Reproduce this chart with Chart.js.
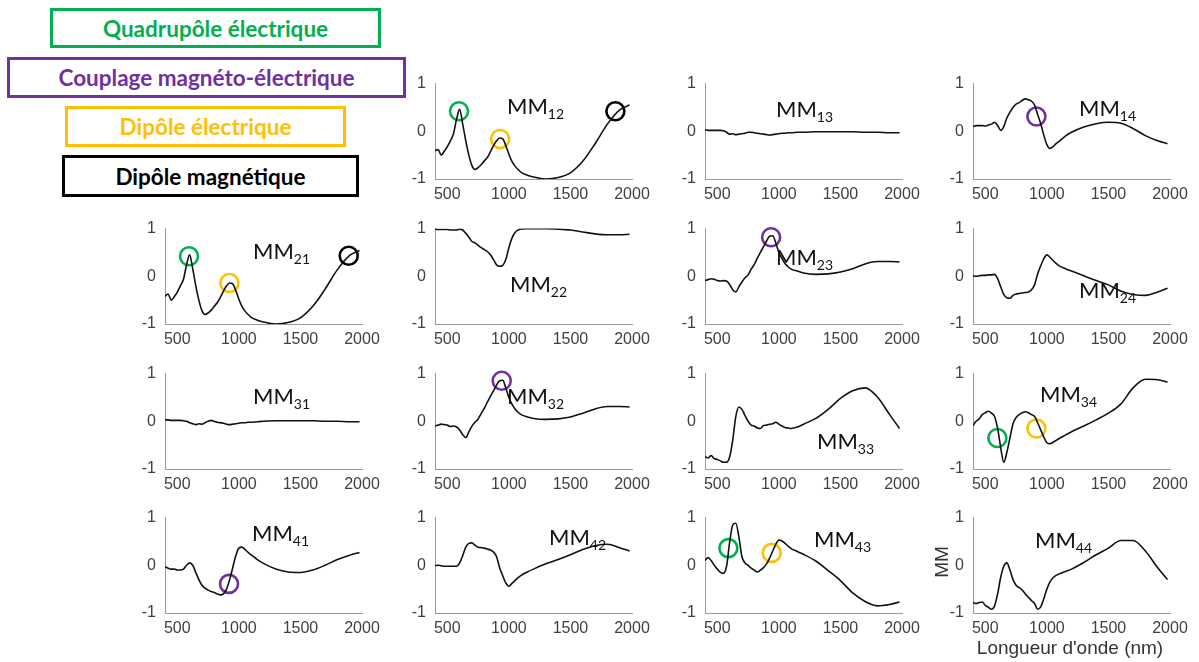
<!DOCTYPE html>
<html lang="fr">
<head>
<meta charset="utf-8">
<title>Matrice de Mueller</title>
<script src="https://cdn.jsdelivr.net/npm/chart.js@4.4.1/dist/chart.umd.min.js"></script>
<style>
  html, body { margin: 0; padding: 0; background: #fff; }
  body { position: relative; width: 1199px; height: 662px; overflow: hidden; font-family: "Liberation Sans", Arial, sans-serif; }
  canvas.panel { position: absolute; }
  .key { position: absolute; box-sizing: border-box; border: 3px solid; font-family: Lato, "Open Sans", sans-serif; font-weight: 700; font-size: 22.5px; display: flex; align-items: center; justify-content: center; }
  .mm { position: absolute; font-family: Lato, sans-serif; font-size: 22px; line-height: 1; transform: translateY(-50%); white-space: nowrap; color: #111; }
  .mm sub { font-size: 14px; vertical-align: -5px; line-height: 0; }
  .axis-title { position: absolute; color: #333; font-size: 19px; white-space: nowrap; line-height: 1; }
</style>
</head>
<body>
<div class="key" style="left:50px;top:8px;width:331px;height:40px;border-color:#00b050;color:#00b050">Quadrupôle électrique</div>
<div class="key" style="left:7px;top:57px;width:399px;height:41px;border-color:#7030a0;color:#7030a0">Couplage magnéto-électrique</div>
<div class="key" style="left:65px;top:106px;width:281px;height:41px;border-color:#ffc000;color:#ffc000">Dipôle électrique</div>
<div class="key" style="left:62px;top:155px;width:297px;height:42px;border-color:#000;color:#000">Dipôle magnétique</div>

<script>
// wavelength (nm) shared by every Mueller element
const wavelengths = [400, 425, 450, 475, 500, 525, 550, 575, 600, 625, 650, 675, 700, 725, 750, 775, 800, 825, 850, 875,
  900, 925, 950, 975, 1000, 1025, 1050, 1075, 1100, 1150, 1200, 1300, 1400, 1500, 1600, 1700, 1800, 1900, 1980];
const xTicks = [500, 1000, 1500, 2000];
const yTicks = [-1, 0, 1];

const mm12 = [-0.41, -0.38, -0.5, -0.42, -0.32, -0.2, -0.05, 0.25, 0.46, 0.15, -0.2, -0.5, -0.72, -0.8, -0.76, -0.7, -0.62, -0.55, -0.43, -0.3,
  -0.2, -0.14, -0.16, -0.3, -0.48, -0.63, -0.73, -0.8, -0.86, -0.92, -0.96, -1.0, -0.97, -0.87, -0.63, -0.26, 0.15, 0.45, 0.55];
const mm13 = [0.03, 0.02, 0.02, 0.02, 0.02, 0.02, 0.01, -0.02, -0.06, -0.05, -0.07, -0.06, -0.05, -0.04, -0.02, -0.02, -0.03, -0.04, -0.05, -0.06,
  -0.07, -0.08, -0.07, -0.06, -0.05, -0.04, -0.04, -0.03, -0.03, -0.02, -0.02, -0.01, -0.01, -0.01, -0.01, -0.02, -0.02, -0.03, -0.03];
const mm14 = [0.1, 0.12, 0.12, 0.12, 0.11, 0.13, 0.15, 0.19, 0.12, 0.02, 0.1, 0.28, 0.4, 0.5, 0.57, 0.6, 0.65, 0.68, 0.66, 0.63,
  0.55, 0.35, 0.16, -0.08, -0.28, -0.36, -0.32, -0.26, -0.21, -0.1, -0.02, 0.09, 0.16, 0.19, 0.17, 0.06, -0.09, -0.2, -0.26];
const mm21 = [-0.42, -0.37, -0.5, -0.43, -0.33, -0.2, -0.06, 0.24, 0.45, 0.16, -0.2, -0.5, -0.72, -0.8, -0.77, -0.71, -0.63, -0.55, -0.44, -0.31,
  -0.2, -0.14, -0.16, -0.3, -0.48, -0.63, -0.73, -0.8, -0.86, -0.92, -0.96, -1.0, -0.97, -0.87, -0.63, -0.27, 0.14, 0.44, 0.54];
const mm22 = [0.99, 0.98, 0.98, 0.98, 0.98, 0.97, 0.97, 0.97, 0.99, 0.97, 0.9, 0.82, 0.73, 0.7, 0.65, 0.6, 0.56, 0.52, 0.45, 0.35,
  0.24, 0.21, 0.23, 0.35, 0.6, 0.8, 0.92, 0.97, 0.99, 1.0, 1.0, 1.0, 0.99, 0.97, 0.93, 0.89, 0.87, 0.87, 0.88];
const mm23 = [-0.09, -0.07, -0.05, -0.06, -0.09, -0.1, -0.09, -0.1, -0.17, -0.28, -0.33, -0.22, -0.12, -0.03, 0.03, 0.15, 0.25, 0.38, 0.5, 0.62,
  0.74, 0.84, 0.85, 0.7, 0.5, 0.37, 0.27, 0.2, 0.15, 0.11, 0.07, 0.04, 0.05, 0.09, 0.16, 0.26, 0.31, 0.31, 0.3];
const mm24 = [0.01, 0.0, 0.01, 0.02, 0.02, 0.03, 0.03, 0.04, -0.05, -0.22, -0.38, -0.45, -0.46, -0.4, -0.37, -0.36, -0.35, -0.34, -0.33, -0.28,
  -0.18, 0.05, 0.22, 0.37, 0.45, 0.4, 0.33, 0.27, 0.22, 0.16, 0.11, 0.01, -0.09, -0.18, -0.31, -0.38, -0.4, -0.33, -0.25];
const mm31 = [0.03, 0.03, 0.02, 0.02, 0.02, 0.02, 0.01, 0.0, -0.03, -0.05, -0.07, -0.05, -0.06, -0.03, 0.0, 0.02, 0.0, -0.02, -0.03, -0.04,
  -0.06, -0.07, -0.06, -0.05, -0.04, -0.03, -0.03, -0.02, -0.02, -0.01, 0.0, 0.01, 0.01, 0.01, 0.01, 0.0, 0.0, -0.01, -0.01];
const mm32 = [-0.1, -0.08, -0.06, -0.07, -0.08, -0.11, -0.1, -0.12, -0.18, -0.28, -0.34, -0.22, -0.1, -0.02, 0.05, 0.16, 0.27, 0.4, 0.52, 0.64,
  0.76, 0.85, 0.86, 0.7, 0.5, 0.36, 0.26, 0.19, 0.14, 0.09, 0.06, 0.04, 0.05, 0.09, 0.17, 0.26, 0.31, 0.31, 0.3];
const mm33 = [-0.74, -0.77, -0.72, -0.78, -0.8, -0.83, -0.86, -0.86, -0.75, -0.4, 0.1, 0.3, 0.25, 0.12, 0.0, -0.08, -0.1, -0.14, -0.15, -0.09,
  -0.08, -0.06, -0.05, -0.02, -0.06, -0.1, -0.13, -0.14, -0.15, -0.12, -0.06, 0.06, 0.25, 0.48, 0.64, 0.7, 0.51, 0.14, -0.15];
const mm34 = [-0.09, 0.0, 0.05, 0.14, 0.18, 0.21, 0.17, 0.1, -0.15, -0.55, -0.86, -0.65, -0.35, -0.05, 0.08, 0.14, 0.18, 0.2, 0.18, 0.14,
  0.1, -0.03, -0.18, -0.33, -0.45, -0.47, -0.44, -0.4, -0.36, -0.29, -0.22, -0.1, 0.03, 0.17, 0.36, 0.7, 0.88, 0.87, 0.82];
const mm41 = [-0.03, -0.06, -0.08, -0.08, -0.1, -0.1, -0.08, 0.0, 0.05, 0.0, -0.15, -0.3, -0.42, -0.48, -0.52, -0.55, -0.57, -0.6, -0.62, -0.6,
  -0.5, -0.3, -0.05, 0.2, 0.36, 0.38, 0.33, 0.27, 0.22, 0.12, 0.04, -0.08, -0.14, -0.15, -0.1, 0.0, 0.12, 0.21, 0.27];
const mm42 = [-0.01, 0.0, -0.01, -0.02, -0.02, -0.02, -0.02, -0.02, 0.05, 0.2, 0.38, 0.46, 0.47, 0.42, 0.38, 0.37, 0.36, 0.34, 0.32, 0.28,
  0.18, -0.05, -0.22, -0.37, -0.44, -0.38, -0.32, -0.26, -0.21, -0.14, -0.08, 0.03, 0.12, 0.22, 0.33, 0.41, 0.44, 0.37, 0.3];
const mm43 = [0.1, 0.16, 0.1, 0.0, -0.08, -0.15, -0.17, -0.02, 0.48, 0.84, 0.88, 0.6, 0.18, 0.05, 0.0, -0.06, -0.1, -0.14, -0.1, -0.05,
  0.03, 0.15, 0.3, 0.44, 0.53, 0.51, 0.46, 0.4, 0.35, 0.29, 0.23, 0.09, -0.11, -0.32, -0.58, -0.76, -0.85, -0.82, -0.77];
const mm44 = [-0.78, -0.8, -0.78, -0.77, -0.84, -0.88, -0.92, -0.85, -0.6, -0.25, -0.02, 0.05, -0.1, -0.3, -0.42, -0.47, -0.52, -0.6, -0.67, -0.74,
  -0.8, -0.92, -0.87, -0.7, -0.5, -0.35, -0.26, -0.21, -0.18, -0.13, -0.08, 0.06, 0.22, 0.36, 0.52, 0.52, 0.3, -0.05, -0.3];

// marked resonances: wavelength, value, kind
const marksMM12 = [{x: 595, y: 0.42, kind: "quadrupole"}, {x: 929, y: -0.16, kind: "dipoleE"}, {x: 1865, y: 0.42, kind: "dipoleM"}];
const marksMM14 = [{x: 915, y: 0.31, kind: "coupling"}];
const marksMM21 = [{x: 595, y: 0.42, kind: "quadrupole"}, {x: 923, y: -0.14, kind: "dipoleE"}, {x: 1892, y: 0.43, kind: "dipoleM"}];
const marksMM23 = [{x: 937, y: 0.82, kind: "coupling"}];
const marksMM32 = [{x: 942, y: 0.85, kind: "coupling"}];
const marksMM34 = [{x: 598, y: -0.35, kind: "quadrupole"}, {x: 915, y: -0.15, kind: "dipoleE"}];
const marksMM41 = [{x: 920, y: -0.39, kind: "coupling"}];
const marksMM43 = [{x: 590, y: 0.36, kind: "quadrupole"}, {x: 942, y: 0.26, kind: "dipoleE"}];

const kindColours = {quadrupole: "#00b050", coupling: "#7030a0", dipoleE: "#ffc000", dipoleM: "#000000"};

// grid geometry (plot area of each panel)
const colLeft = [165, 435, 705, 973];
const rowTop = [77, 222, 367, 511];
const plotW = 197, plotH = 102;
const padL = 40, padT = 12, padR = 24, padB = 30;

const panels = [
  {sub: "12", row: 0, col: 1, values: mm12, marks: marksMM12, label: [507, 106]},
  {sub: "13", row: 0, col: 2, values: mm13, marks: [], label: [776, 109]},
  {sub: "14", row: 0, col: 3, values: mm14, marks: marksMM14, label: [1079, 108]},
  {sub: "21", row: 1, col: 0, values: mm21, marks: marksMM21, label: [253, 251]},
  {sub: "22", row: 1, col: 1, values: mm22, marks: [], label: [510, 284]},
  {sub: "23", row: 1, col: 2, values: mm23, marks: marksMM23, label: [776, 257]},
  {sub: "24", row: 1, col: 3, values: mm24, marks: [], label: [1079, 290]},
  {sub: "31", row: 2, col: 0, values: mm31, marks: [], label: [253, 396]},
  {sub: "32", row: 2, col: 1, values: mm32, marks: marksMM32, label: [507, 396]},
  {sub: "33", row: 2, col: 2, values: mm33, marks: [], label: [817, 441]},
  {sub: "34", row: 2, col: 3, values: mm34, marks: marksMM34, label: [1040, 394]},
  {sub: "41", row: 3, col: 0, values: mm41, marks: marksMM41, label: [252, 533]},
  {sub: "42", row: 3, col: 1, values: mm42, marks: [], label: [549, 537]},
  {sub: "43", row: 3, col: 2, values: mm43, marks: marksMM43, label: [814, 539]},
  {sub: "44", row: 3, col: 3, values: mm44, marks: [], label: [1035, 540]},
];

const tickFont = {family: "'Liberation Sans', Arial, sans-serif", size: 16};

panels.forEach((p) => {
  const canvas = document.createElement("canvas");
  canvas.className = "panel";
  canvas.width = plotW + padL + padR;
  canvas.height = plotH + padT + padB;
  canvas.style.left = (colLeft[p.col] - padL) + "px";
  canvas.style.top = (rowTop[p.row] - padT) + "px";
  document.body.appendChild(canvas);

  const datasets = [{
    data: wavelengths.map((w, i) => ({x: w, y: p.values[i]})),
    borderColor: "#111",
    borderWidth: 1.6,
    pointRadius: 0,
    cubicInterpolationMode: "monotone",
    fill: false,
  }];
  p.marks.forEach((m) => {
    datasets.push({
      type: "scatter",
      data: [{x: m.x, y: m.y}],
      pointStyle: "circle",
      pointRadius: 9,
      pointBorderWidth: 2.6,
      pointBorderColor: kindColours[m.kind],
      pointBackgroundColor: "rgba(0,0,0,0)",
      showLine: false,
      clip: false,
    });
  });

  new Chart(canvas, {
    type: "line",
    data: {datasets},
    options: {
      responsive: false,
      animation: false,
      devicePixelRatio: 1,
      events: [],
      layout: {padding: {left: 0, top: padT, right: padR, bottom: 0}},
      plugins: {legend: {display: false}, tooltip: {enabled: false}},
      scales: {
        x: {
          type: "linear",
          min: 400,
          max: 2000,
          afterBuildTicks: (s) => { s.ticks = xTicks.map((v) => ({value: v})); },
          afterFit: (s) => { s.height = padB; },
          grid: {drawOnChartArea: false, drawTicks: false},
          border: {color: "#9a9a9a", width: 1},
          ticks: {padding: 6, color: "#404040", font: tickFont, maxRotation: 0, autoSkip: false, callback: (v) => String(v)},
        },
        y: {
          type: "linear",
          min: -1,
          max: 1,
          afterBuildTicks: (s) => { s.ticks = yTicks.map((v) => ({value: v})); },
          afterFit: (s) => { s.width = padL; },
          grid: {drawOnChartArea: false, drawTicks: false},
          border: {color: "#9a9a9a", width: 1},
          ticks: {padding: 9, color: "#404040", font: tickFont, callback: (v) => String(v)},
        },
      },
    },
  });

  const lab = document.createElement("div");
  lab.className = "mm";
  lab.style.left = p.label[0] + "px";
  lab.style.top = p.label[1] + "px";
  lab.innerHTML = "MM<sub>" + p.sub + "</sub>";
  document.body.appendChild(lab);
});

const yTitle = document.createElement("div");
yTitle.className = "axis-title";
yTitle.textContent = "MM";
yTitle.style.left = "941px";
yTitle.style.top = "562px";
yTitle.style.transform = "translate(-50%, -50%) rotate(-90deg)";
document.body.appendChild(yTitle);

const xTitle = document.createElement("div");
xTitle.className = "axis-title";
xTitle.textContent = "Longueur d'onde (nm)";
xTitle.style.left = "1070px";
xTitle.style.top = "647px";
xTitle.style.transform = "translate(-50%, -50%)";
document.body.appendChild(xTitle);
</script>
</body>
</html>
